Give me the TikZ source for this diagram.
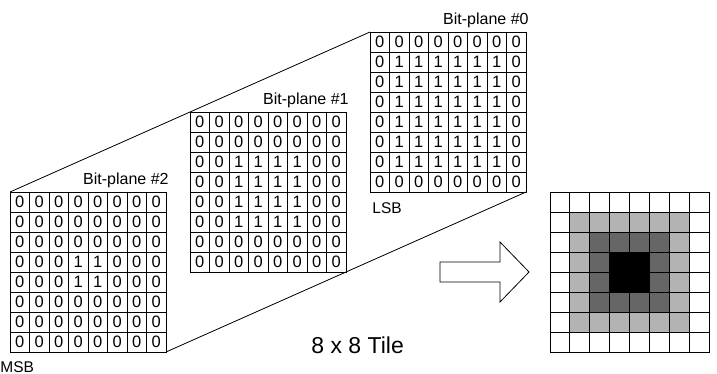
\documentclass[tikz,border=0pt]{standalone}
\usepackage{fontspec}
\setmainfont{Liberation Sans}
\definecolor{lightgr}{HTML}{B3B3B3}
\definecolor{darkgr}{HTML}{666666}
\begin{document}
\begin{tikzpicture}[x=1pt,y=-1pt,
  every path/.style={line width=0.8pt},
  plane/.style={draw=black, line width=0.8pt, inner sep=0pt, outer sep=0pt, anchor=north west, minimum width=156pt, minimum height=160pt},
  tilebox/.style={draw=black, line width=0.8pt, inner sep=0pt, outer sep=0pt, anchor=north west, minimum width=159pt, minimum height=160pt},
  bitdigit/.style={font=\fontsize{16.5}{16.5}\selectfont, inner sep=0pt},
  planelabel/.style={font=\fontsize{16}{16}\selectfont, inner sep=0pt},
  sidelabel/.style={font=\fontsize{15.5}{15.5}\selectfont, inner sep=0pt, anchor=base west},
  titlelabel/.style={font=\fontsize{23}{23}\selectfont, inner sep=0pt, anchor=base west},
  connector/.style={draw=black, line width=0.8pt}
]
\useasboundingbox (0,0) rectangle (717,374);

% bit planes
\foreach \k in {0,1,2} {
  \pgfmathsetmacro\xo{370-180*\k}
  \pgfmathsetmacro\yo{32+80*\k}
  \node[plane] (p\k) at (\xo,\yo) {};
  \foreach \i in {1,...,7} {
    \draw (\xo+19.5*\i,\yo) -- ++(0,160);
    \draw (\xo,\yo+20*\i) -- ++(156,0);
  }
  \foreach \r in {0,...,7} {
    \foreach \c in {0,...,7} {
      \pgfmathtruncatemacro\ring{min(\r,\c,7-\r,7-\c)}
      \pgfmathtruncatemacro\bit{\ring>\k}
      \node[bitdigit] (p\k-\r-\c) at (\xo+19.5*\c+9.75,\yo+20*\r+10) {\bit};
    }
  }
  \node[planelabel, anchor=base east] (l\k) at (\xo+159,\yo-7) {Bit-plane \#\k};
}

% perspective connectors
\draw[connector] (p2.north west) -- (p0.north west);
\draw[connector] (p2.south east) -- (p0.south east);

\node[sidelabel] (msb) at (0,372) {MSB};
\node[sidelabel] (lsb) at (372,213) {LSB};
\node[titlelabel] (title) at (311,353) {8 x 8 Tile};

% block arrow
\draw (440,262) -- (500,262) -- (500,242) -- (529,272) -- (500,302) -- (500,282) -- (440,282) -- cycle;

% resulting tile
\node[tilebox] (tile) at (550,192) {};
\foreach \r in {0,...,7} {
  \foreach \c in {0,...,7} {
    \pgfmathtruncatemacro\ring{min(\r,\c,7-\r,7-\c)}
    \ifcase\ring
      \def\cellcol{white}\or
      \def\cellcol{lightgr}\or
      \def\cellcol{darkgr}\or
      \def\cellcol{black}\fi
    \fill[\cellcol] (550+19.875*\c,192+20*\r) rectangle ++(19.875,20);
  }
}
\foreach \i in {1,...,7} {
  \draw (550+19.875*\i,192) -- ++(0,160);
  \draw (550,192+20*\i) -- ++(159,0);
}
\node[tilebox] at (550,192) {};
\end{tikzpicture}
\end{document}
